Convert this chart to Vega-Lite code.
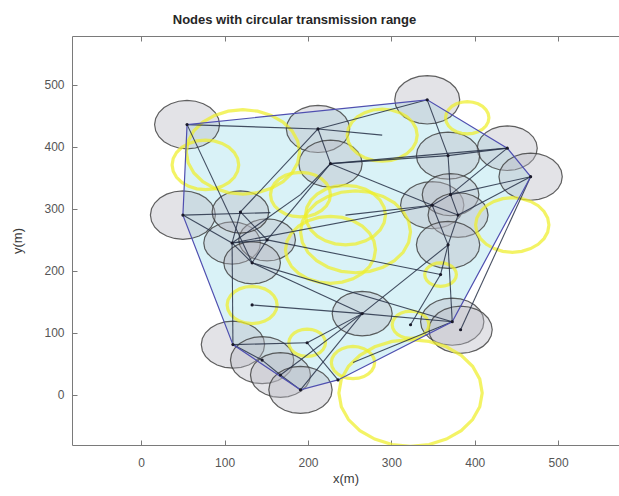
{
  "$schema": "https://vega.github.io/schema/vega-lite/v6.json",
  "width": 547,
  "height": 409,
  "autosize": {"type": "none"},
  "padding": {"left": 72, "top": 36, "right": 0, "bottom": 51},
  "background": "white",
  "title": {"text": "Nodes with circular transmission range", "font": "Liberation Sans", "fontSize": 13, "fontWeight": "bold", "color": "#262626", "anchor": "middle", "dx": -51, "offset": 9},
  "datasets": {
    "hull": [
      {"x": 55, "y": 436, "o": 1}, {"x": 343, "y": 476, "o": 2}, {"x": 439, "y": 398, "o": 3},
      {"x": 467, "y": 352, "o": 4}, {"x": 373, "y": 118, "o": 5}, {"x": 236, "y": 24, "o": 6},
      {"x": 191, "y": 8, "o": 7}, {"x": 110, "y": 81, "o": 8}, {"x": 50, "y": 290, "o": 9}
    ],
    "gray": [
      {"x": 55, "y": 436, "r": 39}, {"x": 50, "y": 290, "r": 39}, {"x": 343, "y": 476, "r": 39},
      {"x": 212, "y": 429, "r": 38}, {"x": 227, "y": 373, "r": 38}, {"x": 439, "y": 398, "r": 36},
      {"x": 467, "y": 352, "r": 38}, {"x": 368, "y": 386, "r": 38}, {"x": 349, "y": 306, "r": 38},
      {"x": 371, "y": 323, "r": 34}, {"x": 380, "y": 290, "r": 36}, {"x": 368, "y": 242, "r": 38},
      {"x": 373, "y": 118, "r": 38}, {"x": 383, "y": 105, "r": 38}, {"x": 109, "y": 245, "r": 34},
      {"x": 151, "y": 250, "r": 34}, {"x": 133, "y": 213, "r": 34}, {"x": 110, "y": 81, "r": 38},
      {"x": 145, "y": 56, "r": 38}, {"x": 167, "y": 32, "r": 36}, {"x": 191, "y": 8, "r": 38},
      {"x": 265, "y": 131, "r": 36}, {"x": 119, "y": 295, "r": 34}
    ],
    "yellow": [
      {"x": 77, "y": 371, "r": 40}, {"x": 122, "y": 392, "r": 68}, {"x": 289, "y": 419, "r": 42},
      {"x": 391, "y": 447, "r": 26}, {"x": 445, "y": 274, "r": 44}, {"x": 257, "y": 263, "r": 66},
      {"x": 227, "y": 234, "r": 54}, {"x": 245, "y": 290, "r": 48}, {"x": 133, "y": 145, "r": 30},
      {"x": 323, "y": 113, "r": 22}, {"x": 254, "y": 52, "r": 26}, {"x": 323, "y": 3, "r": 86},
      {"x": 199, "y": 84, "r": 22}, {"x": 359, "y": 194, "r": 19}, {"x": 191, "y": 323, "r": 36}
    ],
    "edges": [
      {"x": 55, "y": 436, "x2": 212, "y2": 429}, {"x": 55, "y": 436, "x2": 133, "y2": 213},
      {"x": 212, "y": 429, "x2": 227, "y2": 373}, {"x": 212, "y": 429, "x2": 343, "y2": 476},
      {"x": 212, "y": 429, "x2": 119, "y2": 295}, {"x": 227, "y": 373, "x2": 368, "y2": 386},
      {"x": 227, "y": 373, "x2": 439, "y2": 398}, {"x": 343, "y": 476, "x2": 368, "y2": 386},
      {"x": 368, "y": 386, "x2": 439, "y2": 398}, {"x": 368, "y": 386, "x2": 371, "y2": 323},
      {"x": 439, "y": 398, "x2": 371, "y2": 323}, {"x": 467, "y": 352, "x2": 380, "y2": 290},
      {"x": 467, "y": 352, "x2": 371, "y2": 323}, {"x": 349, "y": 306, "x2": 371, "y2": 323},
      {"x": 371, "y": 323, "x2": 380, "y2": 290}, {"x": 349, "y": 306, "x2": 380, "y2": 290},
      {"x": 380, "y": 290, "x2": 368, "y2": 242}, {"x": 368, "y": 242, "x2": 373, "y2": 118},
      {"x": 349, "y": 306, "x2": 109, "y2": 245}, {"x": 227, "y": 373, "x2": 349, "y2": 306},
      {"x": 109, "y": 245, "x2": 151, "y2": 250}, {"x": 109, "y": 245, "x2": 133, "y2": 213},
      {"x": 151, "y": 250, "x2": 133, "y2": 213}, {"x": 119, "y": 295, "x2": 151, "y2": 250},
      {"x": 119, "y": 295, "x2": 109, "y2": 245}, {"x": 50, "y": 290, "x2": 109, "y2": 245},
      {"x": 50, "y": 290, "x2": 155, "y2": 294}, {"x": 151, "y": 250, "x2": 227, "y2": 373},
      {"x": 133, "y": 213, "x2": 265, "y2": 131}, {"x": 109, "y": 245, "x2": 110, "y2": 81},
      {"x": 110, "y": 81, "x2": 145, "y2": 56}, {"x": 145, "y": 56, "x2": 167, "y2": 32},
      {"x": 167, "y": 32, "x2": 191, "y2": 8}, {"x": 265, "y": 131, "x2": 373, "y2": 118},
      {"x": 265, "y": 131, "x2": 191, "y2": 8}, {"x": 265, "y": 131, "x2": 368, "y2": 242},
      {"x": 265, "y": 131, "x2": 199, "y2": 84}, {"x": 151, "y": 250, "x2": 359, "y2": 194},
      {"x": 133, "y": 213, "x2": 373, "y2": 118}, {"x": 133, "y": 145, "x2": 265, "y2": 131},
      {"x": 199, "y": 84, "x2": 236, "y2": 24}, {"x": 110, "y": 81, "x2": 199, "y2": 84},
      {"x": 254, "y": 52, "x2": 373, "y2": 118}, {"x": 167, "y": 32, "x2": 265, "y2": 131},
      {"x": 227, "y": 373, "x2": 191, "y2": 323}, {"x": 191, "y": 323, "x2": 109, "y2": 245},
      {"x": 212, "y": 429, "x2": 289, "y2": 419}, {"x": 349, "y": 306, "x2": 368, "y2": 242},
      {"x": 467, "y": 352, "x2": 383, "y2": 105}, {"x": 359, "y": 194, "x2": 368, "y2": 242},
      {"x": 245, "y": 290, "x2": 349, "y2": 306}, {"x": 359, "y": 194, "x2": 323, "y2": 113}
    ],
    "nodes": [
      {"x": 55, "y": 436}, {"x": 50, "y": 290}, {"x": 343, "y": 476}, {"x": 212, "y": 429},
      {"x": 227, "y": 373}, {"x": 439, "y": 398}, {"x": 467, "y": 352}, {"x": 368, "y": 386},
      {"x": 349, "y": 306}, {"x": 371, "y": 323}, {"x": 380, "y": 290}, {"x": 368, "y": 242},
      {"x": 373, "y": 118}, {"x": 383, "y": 105}, {"x": 109, "y": 245}, {"x": 151, "y": 250},
      {"x": 133, "y": 213}, {"x": 110, "y": 81}, {"x": 145, "y": 56}, {"x": 167, "y": 32},
      {"x": 191, "y": 8}, {"x": 265, "y": 131}, {"x": 236, "y": 24}, {"x": 119, "y": 295},
      {"x": 199, "y": 84}, {"x": 359, "y": 194}, {"x": 323, "y": 113}, {"x": 133, "y": 145}
    ]
  },
  "layer": [
    {
      "data": {"name": "hull"},
      "mark": {"type": "line", "interpolate": "linear-closed", "fill": "#d9f2f7", "stroke": null, "strokeWidth": 0, "clip": true},
      "encoding": {
        "x": {"field": "x", "type": "quantitative", "scale": {"domain": [-83, 573], "nice": false, "zero": false},
              "axis": {"orient": "bottom", "values": [0, 100, 200, 300, 400, 500], "title": "x(m)", "tickSize": -5, "labelPadding": 17, "titlePadding": 4}},
        "y": {"field": "y", "type": "quantitative", "scale": {"domain": [-81, 579], "nice": false, "zero": false},
              "axis": {"orient": "left", "values": [0, 100, 200, 300, 400, 500], "title": "y(m)", "tickSize": -5, "labelPadding": 13, "titlePadding": 19}},
        "order": {"field": "o", "type": "quantitative"}
      }
    },
    {
      "data": {"name": "gray"},
      "mark": {"type": "point", "filled": true, "shape": "M1,0L0.966,0.193L0.866,0.372L0.707,0.526L0.5,0.644L0.259,0.719L0,0.744L-0.259,0.719L-0.5,0.644L-0.707,0.526L-0.866,0.372L-0.966,0.193L-1,0L-0.966,-0.193L-0.866,-0.372L-0.707,-0.526L-0.5,-0.644L-0.259,-0.719L0,-0.744L0.259,-0.719L0.5,-0.644L0.707,-0.526L0.866,-0.372L0.966,-0.193Z",
               "fill": "#b8b8c4", "fillOpacity": 0.4, "stroke": "#3a3a3a", "strokeWidth": 1.2, "strokeOpacity": 0.8, "opacity": 1, "clip": true},
      "encoding": {
        "x": {"field": "x", "type": "quantitative", "axis": null},
        "y": {"field": "y", "type": "quantitative", "axis": null},
        "size": {"field": "r", "type": "quantitative", "scale": {"type": "pow", "exponent": 2, "domain": [0, 100], "range": [0, 27778]}, "legend": null}
      }
    },
    {
      "data": {"name": "yellow"},
      "mark": {"type": "point", "filled": false, "shape": "M1,0L0.966,0.193L0.866,0.372L0.707,0.526L0.5,0.644L0.259,0.719L0,0.744L-0.259,0.719L-0.5,0.644L-0.707,0.526L-0.866,0.372L-0.966,0.193L-1,0L-0.966,-0.193L-0.866,-0.372L-0.707,-0.526L-0.5,-0.644L-0.259,-0.719L0,-0.744L0.259,-0.719L0.5,-0.644L0.707,-0.526L0.866,-0.372L0.966,-0.193Z",
               "fill": null, "stroke": "#efef2a", "strokeWidth": 3.2, "strokeOpacity": 0.72, "opacity": 1, "clip": true},
      "encoding": {
        "x": {"field": "x", "type": "quantitative", "axis": null},
        "y": {"field": "y", "type": "quantitative", "axis": null},
        "size": {"field": "r", "type": "quantitative", "legend": null}
      }
    },
    {
      "data": {"name": "edges"},
      "mark": {"type": "rule", "stroke": "#263046", "strokeWidth": 1.1, "strokeOpacity": 0.85},
      "encoding": {
        "x": {"field": "x", "type": "quantitative", "axis": null},
        "y": {"field": "y", "type": "quantitative", "axis": null},
        "x2": {"field": "x2"},
        "y2": {"field": "y2"}
      }
    },
    {
      "data": {"name": "hull"},
      "mark": {"type": "line", "interpolate": "linear-closed", "stroke": "#4f4fb0", "strokeWidth": 1.2},
      "encoding": {
        "x": {"field": "x", "type": "quantitative", "axis": null},
        "y": {"field": "y", "type": "quantitative", "axis": null},
        "order": {"field": "o", "type": "quantitative"}
      }
    },
    {
      "data": {"name": "nodes"},
      "mark": {"type": "point", "filled": true, "color": "#1a1a2a", "size": 10, "opacity": 1},
      "encoding": {
        "x": {"field": "x", "type": "quantitative", "axis": {"orient": "top", "values": [0, 100, 200, 300, 400, 500], "labels": false, "title": null, "tickSize": -5}},
        "y": {"field": "y", "type": "quantitative", "axis": null}
      }
    }
  ],
  "resolve": {"axis": {"x": "independent", "y": "independent"}},
  "config": {
    "view": {"stroke": null},
    "axis": {"grid": false, "domainColor": "#7a7a7a", "tickColor": "#7a7a7a", "domainWidth": 1, "labelColor": "#555555", "labelFont": "Liberation Sans", "labelFontSize": 12, "titleFont": "Liberation Sans", "titleFontSize": 13, "titleFontWeight": "normal", "titleColor": "#3a3a3a"}
  }
}
